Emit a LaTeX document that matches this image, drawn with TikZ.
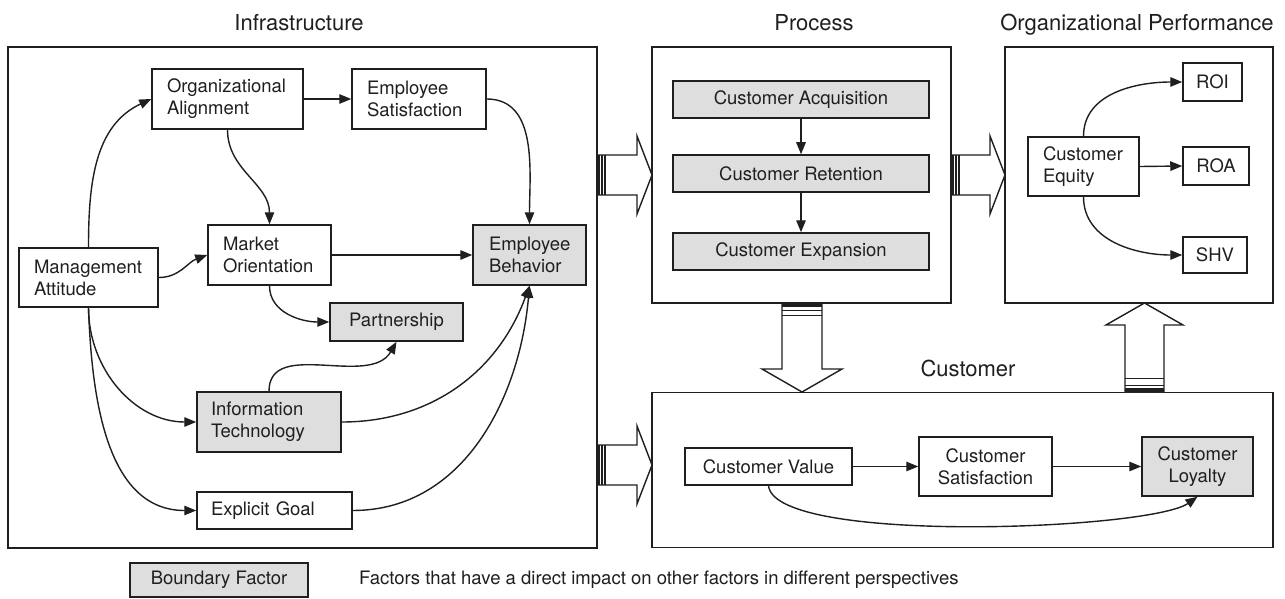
\documentclass[tikz,border=0pt]{standalone}
\usepackage{fontspec}
\setmainfont{TeX Gyre Heros}
\usetikzlibrary{arrows.meta}
\hyphenpenalty=10000
\exhyphenpenalty=10000
\definecolor{bfill}{gray}{0.87}
\definecolor{ink}{gray}{0.12}
\tikzset{
  bx/.style={draw=ink, line width=1.5pt, inner sep=0pt, font=\fontsize{18.5}{22}\selectfont, text=ink},
  gr/.style={fill=bfill},
  arr/.style={draw=ink, line width=1.4pt, -{Triangle[length=12pt,width=9.5pt]}},
  cont/.style={draw=ink, line width=1.6pt, inner sep=0pt},
  ttl/.style={font=\fontsize{22}{25}\selectfont, text=ink, inner sep=0pt},
  blk/.style={draw=ink, line width=1.4pt, fill=white, line join=miter},
  stripe/.style={draw=ink, line width=1.5pt},
}
\begin{document}
\begin{tikzpicture}[x=1pt,y=-1pt]
\useasboundingbox (0,0) rectangle (1285,599);
% containers
\node[cont, minimum width=589pt, minimum height=501pt] (INF) at (302.5,297.5) {};
\node[cont, minimum width=299pt, minimum height=256pt] (PRO) at (801.5,175) {};
\node[cont, minimum width=268pt, minimum height=256pt] (ORG) at (1139,175) {};
\node[cont, minimum width=621pt, minimum height=155pt] (CUS) at (962.5,470) {};
% titles
\node[ttl, anchor=base] (tINF) at (299,31) {Infrastructure};
\node[ttl, anchor=base] (tPRO) at (814,31) {Process};
\node[ttl, anchor=base] (tORG) at (1137,31) {Organizational Performance};
\node[ttl, anchor=base] (tCUS) at (968,376) {Customer};
% infrastructure nodes
\node[bx, minimum width=139pt, minimum height=59pt, text width=109pt, align=left] (MA) at (88.5,277.5) {Management\\Attitude};
\node[bx, minimum width=151pt, minimum height=60pt, text width=121pt, align=left] (OA) at (227.5,99) {Organizational\\Alignment};
\node[bx, minimum width=134pt, minimum height=60pt, text width=104pt, align=left] (ES) at (419,99) {Employee\\Satisfaction};
\node[bx, minimum width=123pt, minimum height=60pt, text width=93pt, align=left] (MO) at (269.5,255) {Market\\Orientation};
\node[bx, gr, minimum width=113pt, minimum height=60pt, text width=81pt, align=left] (EB) at (529.5,255) {Employee\\Behavior};
\node[bx, gr, minimum width=133pt, minimum height=38pt] (PA) at (396.5,322) {Partnership};
\node[bx, gr, minimum width=144pt, minimum height=60pt, text width=116pt, align=left] (IT) at (269,422) {Information\\Technology};
\node[bx, minimum width=155pt, minimum height=37pt, text width=127pt, align=left] (EG) at (274.5,510.5) {Explicit Goal};
% process nodes
\node[bx, gr, minimum width=256pt, minimum height=37pt] (CA) at (801,99.5) {Customer Acquisition};
\node[bx, gr, minimum width=256pt, minimum height=37pt] (CR) at (801,173.5) {Customer Retention};
\node[bx, gr, minimum width=256pt, minimum height=37pt] (CX) at (801,251.5) {Customer Expansion};
% org performance nodes
\node[bx, minimum width=111pt, minimum height=59pt, text width=81pt, align=left] (CQ) at (1083.5,166.5) {Customer\\Equity};
\node[bx, minimum width=59pt, minimum height=38pt] (ROI) at (1212.5,82) {ROI};
\node[bx, minimum width=66pt, minimum height=38pt] (ROA) at (1216,166) {ROA};
\node[bx, minimum width=64pt, minimum height=36pt] (SHV) at (1215,255) {SHV};
% customer nodes
\node[bx, minimum width=167pt, minimum height=37pt] (CV) at (768.5,466.5) {Customer Value};
\node[bx, minimum width=133pt, minimum height=59pt, align=center] (CS) at (985.5,466.5) {Customer\\Satisfaction};
\node[bx, gr, minimum width=111pt, minimum height=59pt, align=center] (CL) at (1197.5,466.5) {Customer\\Loyalty};
% legend
\node[bx, gr, minimum width=178pt, minimum height=34pt] (LG) at (219,580) {Boundary Factor};
\coordinate (LTpos) at (359,0);
\node[anchor=base west, inner sep=0pt, font=\fontsize{18.5}{22}\selectfont, text=ink] (LT) at (LG.base -| LTpos) {Factors that have a direct impact on other factors in different perspectives};
% infrastructure connectors
\draw[arr] (MA.north) to[out=90,in=205] (OA.west);
\draw[arr] (MA.east) to[out=0,in=200] (MO.west);
\draw[arr] (OA.south) to[out=-90,in=90] (MO.north);
\draw[arr] (OA.east) -- (ES.west);
\draw[arr] (MO.east) -- (EB.west);
\draw[arr] (ES.east) to[out=0,in=90] (EB.north);
\draw[arr] (MO.south) to[out=-90,in=180] (PA.west);
\draw[arr] (MA.south) to[out=-90,in=180] (IT.west);
\draw[arr] (MA.south) to[out=-88,in=180] (EG.west);
\draw[arr] (IT.north) to[out=90,in=-120] (PA.south);
\draw[arr] (IT.east) to[out=0,in=-110] (EB.south);
\draw[arr] (EG.east) to[out=0,in=-95] (EB.south);
% process connectors
\draw[arr] (CA.south) -- (CR.north);
\draw[arr] (CR.south) -- (CX.north);
% org connectors
\draw[arr] (CQ.north) to[out=90,in=180] (ROI.west);
\draw[arr] (CQ.east) -- (ROA.west);
\draw[arr] (CQ.south) to[out=-90,in=180] (SHV.west);
% customer connectors
\draw[arr] (CV.east) -- (CS.west);
\draw[arr] (CS.east) -- (CL.west);
\draw[arr] (CV.south) .. controls (775,545) and (1150,530) .. (CL.south);
% block arrows: infrastructure -> process
\draw[blk] (597,155) -- (637,155) -- (637,136) -- (652,175) -- (637,214) -- (637,195) -- (597,195) -- cycle;
\fill[ink] (597,155) rectangle (600,195);
\draw[stripe] (601.8,155) -- (601.8,195);
\draw[stripe] (604.8,155) -- (604.8,195);
% process -> organizational performance
\draw[blk] (951,155) -- (990,155) -- (990,136) -- (1005,175) -- (990,214) -- (990,195) -- (951,195) -- cycle;
\fill[ink] (951,155) rectangle (954,195);
\draw[stripe] (955.8,155) -- (955.8,195);
\draw[stripe] (958.8,155) -- (958.8,195);
% infrastructure -> customer
\draw[blk] (597,445) -- (637,445) -- (637,426) -- (652,465) -- (637,504) -- (637,485) -- (597,485) -- cycle;
\fill[ink] (597,445) rectangle (600,485);
\draw[stripe] (601.8,445) -- (601.8,485);
\draw[stripe] (604.8,445) -- (604.8,485);
% process -> customer
\draw[blk] (782,303) -- (782,369) -- (762,369) -- (802,392) -- (842,369) -- (822,369) -- (822,303) -- cycle;
\fill[ink] (782,303) rectangle (822,307);
\draw[stripe] (782,310.3) -- (822,310.3);
\draw[stripe] (782,315.3) -- (822,315.3);
% customer -> organizational performance
\draw[blk] (1125,392) -- (1125,325) -- (1106,325) -- (1144.5,303) -- (1183,325) -- (1164,325) -- (1164,392) -- cycle;
\fill[ink] (1125,388.3) rectangle (1164,392);
\draw[stripe] (1125,385.5) -- (1164,385.5);
\draw[stripe] (1125,378.7) -- (1164,378.7);
\end{tikzpicture}
\end{document}
